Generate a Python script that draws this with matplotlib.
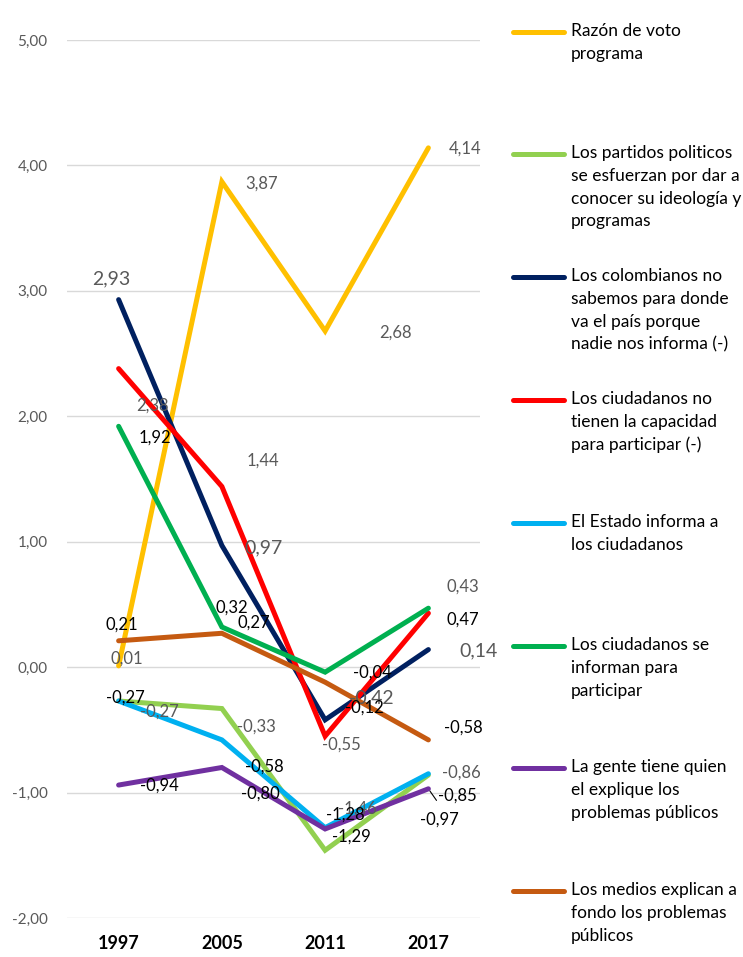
import matplotlib.pyplot as plt
from matplotlib.lines import Line2D

# ---- data ----
years = ["1997", "2005", "2011", "2017"]

razon_voto = [0.01, 3.87, 2.68, 4.14]
partidos = [-0.27, -0.33, -1.46, -0.86]
colombianos = [2.93, 0.97, -0.42, 0.14]
no_capacidad = [2.38, 1.44, -0.55, 0.43]
estado = [-0.27, -0.58, -1.28, -0.85]
se_informan = [1.92, 0.32, -0.04, 0.47]
gente = [-0.94, -0.80, -1.29, -0.97]
medios = [0.21, 0.27, -0.12, -0.58]

series_names = [
    "Razón de voto\nprograma",
    "Los partidos politicos\nse esfuerzan por dar a\nconocer su ideología y\nprogramas",
    "Los colombianos no\nsabemos para donde\nva el país porque\nnadie nos informa (-)",
    "Los ciudadanos no\ntienen la capacidad\npara participar (-)",
    "El Estado informa a\nlos ciudadanos",
    "Los ciudadanos se\ninforman para\nparticipar",
    "La gente tiene quien\nel explique los\nproblemas públicos",
    "Los medios explican a\nfondo los problemas\npúblicos",
]
series_values = [razon_voto, partidos, colombianos, no_capacidad,
                 estado, se_informan, gente, medios]
colors = ["#FFC000", "#92D050", "#002060", "#FF0000",
          "#00B0F0", "#00B050", "#7030A0", "#C55A11"]

GRAY = "#595959"
label_colors = [GRAY, GRAY, GRAY, GRAY, "black", "black", "black", "black"]
label_sizes = [12, 12, 14, 12, 12, 12, 12, 12]

# label offsets in pixels (dx right, dy down)
offsets = [
    [(8, -7), (40, 2), (70, 2), (37, 1)],
    [(41, 11), (35, 18), (32, -42), (33, -2)],
    [(-7, -21), (42, 2), (46, -22), (50, 1)],
    [(34, 37), (41, -26), (16, 8), (34, -27)],
    [(7, -3), (42, 27), (20, -13), (29, 22)],
    [(36, 11), (10, -19), (47, 0), (34, 11)],
    [(41, 1), (39, 26), (26, 8), (11, 31)],
    [(3, -16), (32, -11), (39, 25), (35, -12)],
]

plt.rcParams['font.family'] = ['Lato', 'DejaVu Sans']

fig = plt.figure(figsize=(7.43, 9.57), dpi=100)
W, H = 743, 957
ax = fig.add_axes([67 / W, 39 / H, (480 - 67) / W, (918 - 40) / H])

x = list(range(len(years)))
for vals, c in zip(series_values, colors):
    ax.plot(x, vals, color=c, lw=3.6, solid_capstyle='round', solid_joinstyle='miter')

for vals, offs, lc, ls in zip(series_values, offsets, label_colors, label_sizes):
    for i, v in enumerate(vals):
        dx, dy = offs[i]
        ax.annotate(f"{v:.2f}".replace(".", ","), xy=(i, v),
                    xytext=(dx * 0.72, -dy * 0.72), textcoords='offset points',
                    ha='center', va='center', fontsize=ls, color=lc)

# leader line for the -0,85 label
ax.annotate("", xy=(3, -0.97), xytext=(7, -10), textcoords='offset points',
            arrowprops=dict(arrowstyle='-', lw=0.8, color='black'))

ax.set_xlim(-0.5, 3.5)
ax.set_ylim(-2, 5)
ax.set_yticks(range(-2, 6))
ax.set_yticklabels([f"{t:.2f}".replace(".", ",") for t in range(-2, 6)],
                   color=GRAY, fontsize=11)
ax.set_xticks(x)
ax.set_xticklabels(years, fontsize=13, fontweight='bold')
ax.tick_params(axis='both', length=0)
ax.tick_params(axis='y', pad=14)
ax.tick_params(axis='x', pad=12)
ax.grid(axis='y', color='#D9D9D9', lw=1)
ax.set_axisbelow(True)
for s in ax.spines.values():
    s.set_visible(False)

# ---- legend drawn by hand ----
legend_y = [32, 154, 277, 400, 523, 646, 768, 891]
for name, c, yy in zip(series_names, colors, legend_y):
    fy = 1 - yy / H
    fig.add_artist(Line2D([513 / W, 564 / W], [fy, fy], color=c, lw=3.6,
                          solid_capstyle='round'))
    fig.text(571 / W, fy + 9 / H, name, ha='left', va='top',
             fontsize=12.5, linespacing=1.52, color='black')

fig.savefig("out.png", dpi=100)
